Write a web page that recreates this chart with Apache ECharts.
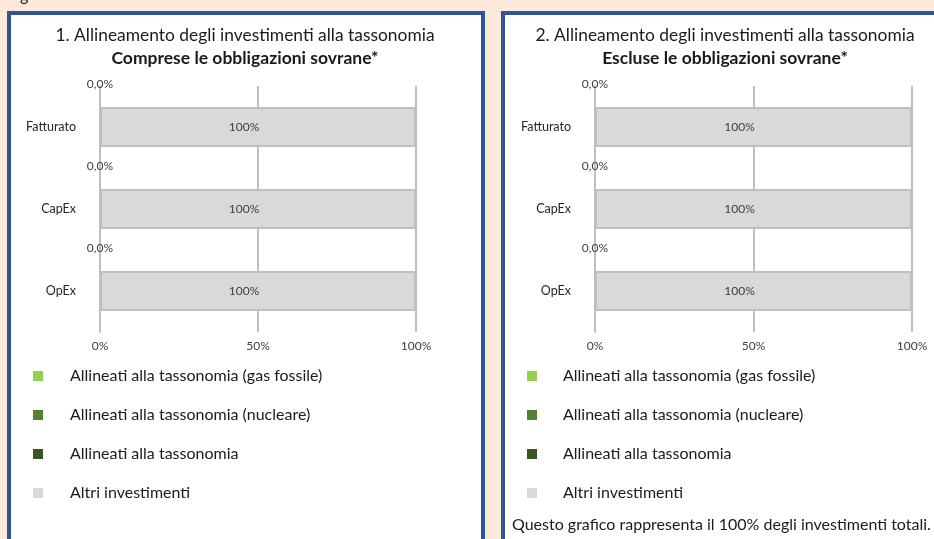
<!DOCTYPE html>
<html>
<head>
<meta charset="utf-8">
<script src="https://cdn.jsdelivr.net/npm/echarts@6/dist/echarts.min.js"></script>
<style>
  html, body { margin: 0; padding: 0; background: #fde9d9; }
  #myChart { width: 934px; height: 539px; }
</style>
</head>
<body>
<div id="myChart"></div>
<script>
var categories = ['Fatturato', 'CapEx', 'OpEx'];
var seriesNames = [
    'Allineati alla tassonomia (gas fossile)',
    'Allineati alla tassonomia (nucleare)',
    'Allineati alla tassonomia',
    'Altri investimenti'
];
var seriesColors = ['#92d050', '#548235', '#375623', '#d9d9d9'];

// 1. Comprese le obbligazioni sovrane
var incGas = [0, 0, 0];
var incNuc = [0, 0, 0];
var incAligned = [0, 0, 0];
var incOther = [100, 100, 100];

// 2. Escluse le obbligazioni sovrane
var excGas = [0, 0, 0];
var excNuc = [0, 0, 0];
var excAligned = [0, 0, 0];
var excOther = [100, 100, 100];

var xTicks = [0, 50, 100];

var font = 'Lato';
var blue = '#2f5597';
var gridGray = '#bfbfbf';

var myChart = echarts.init(document.getElementById('myChart'));

function makeSeries(gridIdx, data) {
    return data.map(function (vals, i) {
        var s = {
            name: seriesNames[i],
            type: 'bar',
            stack: 'tot' + gridIdx,
            xAxisIndex: gridIdx,
            yAxisIndex: gridIdx,
            barWidth: 40,
            itemStyle: { color: seriesColors[i] },
            data: vals,
            z: 3
        };
        if (i === 2) {
            s.label = {
                show: true,
                position: 'inside',
                offset: [0, -43],
                fontFamily: font,
                fontSize: 12,
                color: '#404040',
                formatter: function (p) { return p.value.toFixed(1).replace('.', ',') + '%'; }
            };
        }
        if (i === 3) {
            s.itemStyle = { color: seriesColors[i], borderColor: gridGray, borderWidth: 2 };
            s.label = {
                show: true,
                position: 'inside',
                offset: [-14, 0],
                fontFamily: font,
                fontSize: 12,
                color: '#404040',
                formatter: '{c}%'
            };
        }
        return s;
    });
}

function xAxis(gridIdx) {
    return {
        type: 'value',
        gridIndex: gridIdx,
        min: xTicks[0],
        max: xTicks[xTicks.length - 1],
        interval: xTicks[1] - xTicks[0],
        axisLine: { show: false },
        axisTick: { show: false },
        axisLabel: { formatter: '{value}%', fontFamily: font, fontSize: 12, color: '#404040', margin: 8 },
        splitLine: { lineStyle: { color: gridGray, width: 2 } }
    };
}

function yAxis(gridIdx) {
    return {
        type: 'category',
        gridIndex: gridIdx,
        inverse: true,
        data: categories,
        axisLine: { show: true, lineStyle: { color: gridGray, width: 2 } },
        axisTick: { show: false },
        axisLabel: { fontFamily: font, fontSize: 12.5, color: '#262626', margin: 24 }
    };
}

function legend(left, pad) {
    return {
        orient: 'vertical',
        left: left,
        top: 368,
        padding: 0,
        itemWidth: 10,
        itemHeight: 10,
        itemGap: 23,
        icon: 'rect',
        selectedMode: false,
        data: seriesNames,
        itemStyle: { borderWidth: 0 },
        textStyle: { fontFamily: font, fontSize: 16, color: '#1a1a1a', padding: [0, 0, 0, pad] }
    };
}

var option = {
    animation: false,
    backgroundColor: '#fde9d9',
    title: [
        {
            text: '1. Allineamento degli investimenti alla tassonomia',
            subtext: 'Comprese le obbligazioni sovrane*',
            left: 245, top: 27, textAlign: 'center', itemGap: 5, padding: 0,
            textStyle: { fontFamily: font, fontSize: 17.4, fontWeight: 'normal', color: '#1a1a1a' },
            subtextStyle: { fontFamily: font, fontSize: 17.5, fontWeight: 'bold', color: '#1a1a1a' }
        },
        {
            text: '2. Allineamento degli investimenti alla tassonomia',
            subtext: 'Escluse le obbligazioni sovrane*',
            left: 725, top: 27, textAlign: 'center', itemGap: 5, padding: 0,
            textStyle: { fontFamily: font, fontSize: 17.4, fontWeight: 'normal', color: '#1a1a1a' },
            subtextStyle: { fontFamily: font, fontSize: 17.5, fontWeight: 'bold', color: '#1a1a1a' }
        }
    ],
    legend: [legend(33, 22), legend(527, 21)],
    grid: [
        { left: 100, top: 86, width: 316, height: 246 },
        { left: 595, top: 86, width: 317, height: 246 }
    ],
    xAxis: [xAxis(0), xAxis(1)],
    yAxis: [yAxis(0), yAxis(1)],
    series: makeSeries(0, [incGas, incNuc, incAligned, incOther])
        .concat(makeSeries(1, [excGas, excNuc, excAligned, excOther])),
    graphic: [
        { type: 'rect', z: -10, shape: { x: 9, y: 13, width: 474, height: 560 },
          style: { fill: '#fff', stroke: blue, lineWidth: 4 } },
        { type: 'rect', z: -10, shape: { x: 503, y: 13, width: 460, height: 560 },
          style: { fill: '#fff', stroke: blue, lineWidth: 4 } },
        { type: 'text', left: 20, top: -12, z: 5,
          style: { text: 'g', font: '16px ' + font, fill: '#1a1a1a' } },
        { type: 'text', left: 512, top: 517, z: 5,
          style: { text: 'Questo grafico rappresenta il 100% degli investimenti totali.', font: '16px ' + font, fill: '#1a1a1a' } }
    ]
};

myChart.setOption(option);
</script>
</body>
</html>
